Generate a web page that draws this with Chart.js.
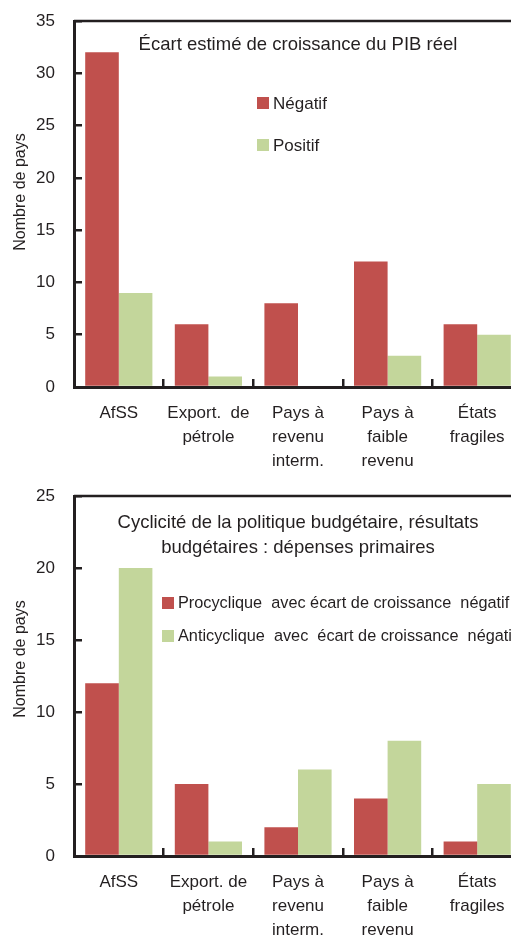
<!DOCTYPE html>
<html>
<head>
<meta charset="utf-8">
<script src="https://cdn.jsdelivr.net/npm/chart.js@4/dist/chart.umd.min.js"></script>
<style>
  html, body { margin: 0; padding: 0; background: #fff; overflow: hidden; width: 511px; height: 937px; }
  .box { position: relative; width: 530px; }
  #top { height: 478px; }
  #bottom { height: 469px; }
</style>
</head>
<body>
<div class="box" id="top"><canvas id="chartTop"></canvas></div>
<div class="box" id="bottom"><canvas id="chartBottom"></canvas></div>
<script>
const topCategories = [["AfSS"], ["Export.  de", "pétrole"], ["Pays à", "revenu", "interm."], ["Pays à", "faible", "revenu"], ["États", "fragiles"]];
const negatif = [32, 6, 8, 12, 6];
const positif = [9, 1, 0, 3, 5];
const topTitle = ["Écart estimé de croissance du PIB réel"];

const bottomCategories = [["AfSS"], ["Export. de", "pétrole"], ["Pays à", "revenu", "interm."], ["Pays à", "faible", "revenu"], ["États", "fragiles"]];
const procyclique = [12, 5, 2, 4, 1];
const anticyclique = [20, 1, 6, 8, 5];
const bottomTitle = ["Cyclicité de la politique budgétaire, résultats", "budgétaires : dépenses primaires"];

const yTitle = "Nombre de pays";

const RED = "#C0504D";
const GREEN = "#C3D69B";
const INK = "#231f20";
const FONT = "'Liberation Sans', Arial, sans-serif";

// frame, title, legend and y title drawn by hand
const insideText = {
  id: "insideText",
  afterDraw(chart, args, opts) {
    const { ctx, chartArea } = chart;
    ctx.save();
    ctx.strokeStyle = INK;
    ctx.lineWidth = 2.5;
    ctx.beginPath();
    ctx.moveTo(chartArea.left, chartArea.top);
    ctx.lineTo(chartArea.right, chartArea.top);
    ctx.lineTo(chartArea.right, chartArea.bottom);
    ctx.stroke();

    ctx.font = "18.5px " + FONT;
    ctx.fillStyle = INK;
    ctx.textAlign = "center";
    ctx.textBaseline = "middle";
    const cx = (chartArea.left + chartArea.right) / 2;
    opts.title.forEach((line, i) => {
      ctx.fillText(line, cx, chartArea.top + opts.titleTop + i * opts.titleLineHeight);
    });

    ctx.font = opts.legendSize + "px " + FONT;
    ctx.textAlign = "left";
    chart.data.datasets.forEach((ds, i) => {
      const y = chartArea.top + opts.legendTop + i * opts.legendGap;
      const x = chartArea.left + opts.legendLeft;
      ctx.fillStyle = ds.backgroundColor;
      ctx.fillRect(x, y - 6, 12, 12);
      ctx.fillStyle = INK;
      ctx.fillText(ds.label, x + 16, y + 1);
    });

    // rotated axis title
    ctx.font = "16px " + FONT;
    ctx.textAlign = "center";
    ctx.fillStyle = INK;
    ctx.translate(21, (chartArea.top + chartArea.bottom) / 2 + opts.yTitleShift);
    ctx.rotate(-Math.PI / 2);
    ctx.fillText(yTitle, 0, 0);
    ctx.restore();
  }
};

function makeChart(id, categories, series, yMax, padTop, inside) {
  return new Chart(document.getElementById(id), {
    type: "bar",
    data: {
      labels: categories,
      datasets: series.map((s) => ({
        label: s.label,
        data: s.values,
        backgroundColor: s.color,
        borderWidth: 0,
        categoryPercentage: 0.75,
        barPercentage: 1
      }))
    },
    options: {
      responsive: true,
      maintainAspectRatio: false,
      animation: false,
      layout: {
        padding: { top: padTop, right: 8, bottom: 0, left: 0 }
      },
      plugins: {
        legend: { display: false },
        tooltip: { enabled: false },
        insideText: inside
      },
      scales: {
        x: {
          offset: true,
          afterFit: (s) => { s.height = 91; },
          grid: {
            offset: true,
            drawOnChartArea: false,
            drawTicks: true,
            tickLength: -8,
            lineWidth: 2.5,
            color: INK
          },
          border: { display: true, color: INK, width: 3 },
          ticks: {
            color: INK,
            font: { family: FONT, size: 17, lineHeight: "24px" },
            maxRotation: 0,
            autoSkip: false,
            padding: 22
          }
        },
        y: {
          min: 0,
          max: yMax,
          afterFit: (s) => {
            s.width = 74;
            s.paddingTop = 8;
            s.paddingBottom = 8;
          },
          grid: {
            drawOnChartArea: false,
            drawTicks: true,
            tickLength: -8,
            lineWidth: 2.5,
            color: INK
          },
          border: { display: true, color: INK, width: 3 },
          ticks: {
            stepSize: 5,
            color: INK,
            font: { family: FONT, size: 17 },
            padding: 27
          }
        }
      }
    },
    plugins: [insideText]
  });
}

makeChart("chartTop", topCategories, [
  { label: "Négatif", values: negatif, color: RED },
  { label: "Positif", values: positif, color: GREEN }
], 35, 21, {
  title: topTitle, titleTop: 24, titleLineHeight: 25,
  legendLeft: 183, legendTop: 82, legendGap: 42, legendSize: 17,
  yTitleShift: -12
});

makeChart("chartBottom", bottomCategories, [
  { label: "Procyclique  avec écart de croissance  négatif", values: procyclique, color: RED },
  { label: "Anticyclique  avec  écart de croissance  négatif", values: anticyclique, color: GREEN }
], 25, 18, {
  title: bottomTitle, titleTop: 27, titleLineHeight: 25,
  legendLeft: 88, legendTop: 107, legendGap: 33, legendSize: 16.3,
  yTitleShift: -17
});
</script>
</body>
</html>
